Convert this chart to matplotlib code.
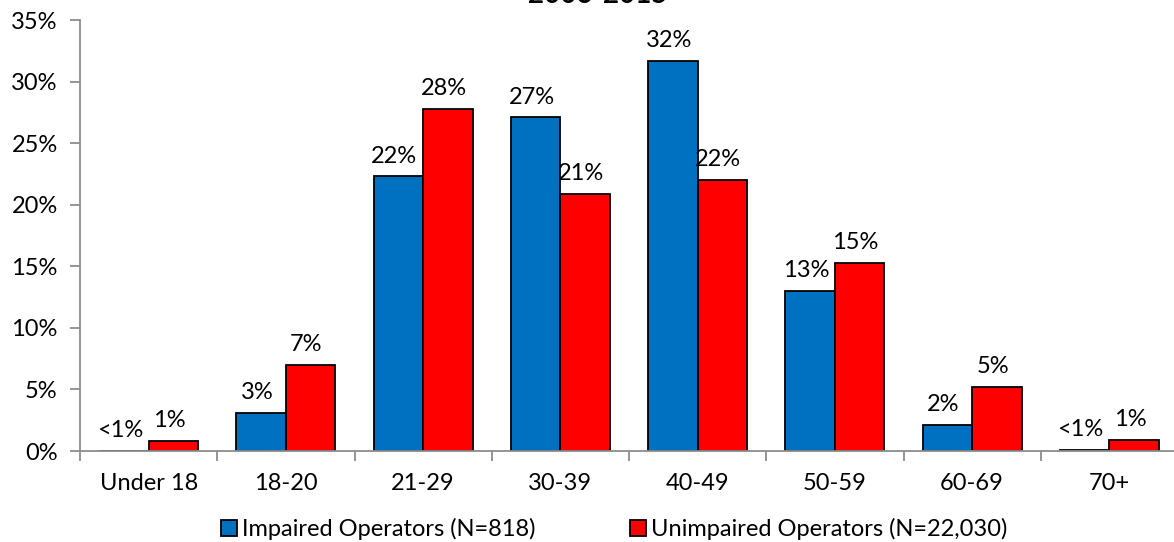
import matplotlib
matplotlib.use("Agg")
import matplotlib.pyplot as plt
import numpy as np

# Age groups and share of operators (%)
age_groups = ["Under 18", "18-20", "21-29", "30-39", "40-49", "50-59", "60-69", "70+"]
impaired = [0.04, 3.1, 22.3, 27.1, 31.7, 13.0, 2.1, 0.1]
unimpaired = [0.85, 7.0, 27.8, 20.9, 22.0, 15.3, 5.2, 0.9]
series_names = ["Impaired Operators (N=818)", "Unimpaired Operators (N=22,030)"]
title = "2006-2015"
y_ticks = [0, 5, 10, 15, 20, 25, 30, 35]

BLUE = "#0070C0"
RED = "#FF0000"
GRAY = "#8C8C8C"
FS = 17

plt.rcParams["font.family"] = ["Lato", "DejaVu Sans"]


def pct_label(v):
    return "<1%" if v < 0.5 else f"{v:.0f}%"


fig = plt.figure(figsize=(11.74, 5.42), dpi=100)
ax = fig.add_axes([80 / 1174, 1 - 451 / 542, 1098 / 1174, 431 / 542])

x = np.arange(len(age_groups))
w = 0.36
b1 = ax.bar(x - w / 2, impaired, w, color=BLUE, edgecolor="black", linewidth=1.3,
            label=series_names[0])
b2 = ax.bar(x + w / 2, unimpaired, w, color=RED, edgecolor="black", linewidth=1.3,
            label=series_names[1])

for bars, vals in ((b1, impaired), (b2, unimpaired)):
    for rect, v in zip(bars, vals):
        ax.annotate(pct_label(v), (rect.get_x() + rect.get_width() / 2, v),
                    xytext=(-3, 7), textcoords="offset points",
                    ha="center", va="bottom", fontsize=FS)

ax.set_xlim(-0.5, len(age_groups) - 0.5)
ax.set_ylim(0, 35)
ax.set_yticks(y_ticks)
ax.set_yticklabels([f"{t}%" for t in y_ticks])
ax.set_xticks(x)
ax.set_xticklabels(age_groups)
ax.set_xticks(np.arange(len(age_groups) + 1) - 0.5, minor=True)
ax.tick_params(axis="x", which="major", length=0, pad=16, labelsize=FS)
ax.tick_params(axis="x", which="minor", length=7, width=1.3, color=GRAY)
ax.tick_params(axis="y", length=7, width=1.3, color=GRAY, labelsize=FS, pad=9)

for s in ("top", "right"):
    ax.spines[s].set_visible(False)
for s in ("left", "bottom"):
    ax.spines[s].set_color(GRAY)
    ax.spines[s].set_linewidth(1.3)

fig.text(0.509, 1 - 3 / 542, title, ha="center", va="baseline",
         fontsize=20, fontweight="bold")

fig.legend(handles=[b1, b2], loc="center", bbox_to_anchor=(0.523, 1 - 529 / 542),
           ncol=2, frameon=False, fontsize=FS, handlelength=0.7, handleheight=0.7,
           handletextpad=0.2, columnspacing=4.0, borderaxespad=0)

fig.savefig("out.png", dpi=100)
